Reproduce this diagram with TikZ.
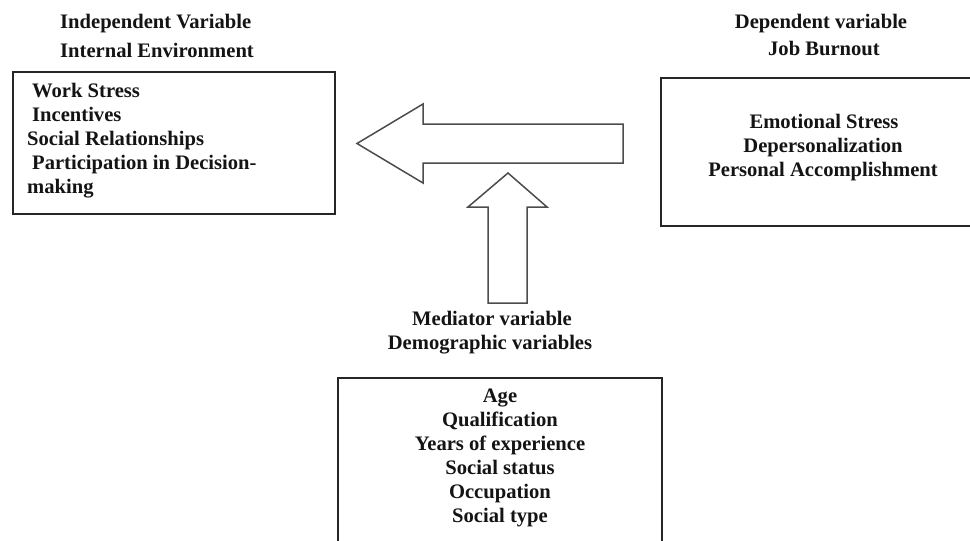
\documentclass[tikz,border=0pt]{standalone}
\usepackage{fontspec}
\setmainfont{Liberation Serif}
\begin{document}
\begin{tikzpicture}[x=1pt,y=-1pt,
  txt/.style={font=\fontsize{20.6}{24}\selectfont\bfseries, text=black!92, inner sep=0pt},
  lline/.style={txt, anchor=base west},
  cline/.style={txt, anchor=base},
  boxst/.style={draw=black!85, line width=1.6pt, anchor=north west, inner sep=0pt},
  blockarrow/.style={draw=black!70, line width=1.5pt, line join=miter, fill=white}]
\clip (0,0) rectangle (970,541);
\fill[white] (0,0) rectangle (970,541);

% left box
\node[boxst, minimum width=322pt, minimum height=142pt] (ind) at (12,71) {};
\node[lline] (indt1) at (60,28) {Independent Variable};
\node[lline] (indt2) at (60,57) {Internal Environment};
\node[lline] (ind1) at (32,97) {Work Stress};
\node[lline] (ind2) at (32,121) {Incentives};
\node[lline] (ind3) at (27,145) {Social Relationships};
\node[lline] (ind4) at (32,169) {Participation in Decision-};
\node[lline] (ind5) at (27,193) {making};

% right box
\node[boxst, minimum width=320pt, minimum height=148pt] (dep) at (660,77) {};
\node[cline] (dept1) at (821,28) {Dependent variable};
\node[cline] (dept2) at (824,55) {Job Burnout};
\node[cline] (dep1) at (824,128) {Emotional Stress};
\node[cline] (dep2) at (823,152) {Depersonalization};
\node[cline] (dep3) at (823,176) {Personal Accomplishment};

% bottom box
\node[boxst, minimum width=324pt, minimum height=200pt] (med) at (337,377) {};
\node[cline] (medt1) at (492,325) {Mediator variable};
\node[cline] (medt2) at (490,349) {Demographic variables};
\node[cline] (med1) at (500,402) {Age};
\node[cline] (med2) at (500,426) {Qualification};
\node[cline] (med3) at (500,450) {Years of experience};
\node[cline] (med4) at (500,474) {Social status};
\node[cline] (med5) at (500,498) {Occupation};
\node[cline] (med6) at (500,522) {Social type};

% block arrows
\draw[blockarrow] (357,143.5) -- (423,104) -- (423,124) -- (623,124) -- (623,163) -- (423,163) -- (423,183) -- cycle;
\draw[blockarrow] (508,173) -- (547,207) -- (527,207) -- (527,303) -- (488,303) -- (488,207) -- (468,207) -- cycle;
\end{tikzpicture}
\end{document}
